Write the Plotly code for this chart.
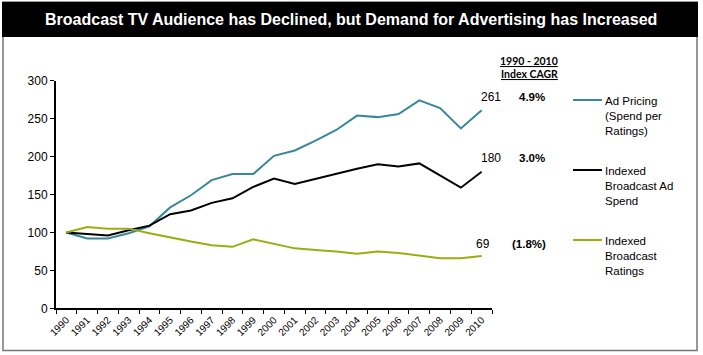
import plotly.graph_objects as go

years = [str(y) for y in range(1990, 2011)]
ad_pricing = [100, 92, 92, 99, 108, 133, 149, 169, 177, 177, 201, 208, 221, 235, 254, 252, 256, 274, 264, 237, 261]
ad_spend = [100, 98, 96, 103, 109, 124, 129, 139, 145, 160, 171, 164, 171, 178, 184, 190, 187, 191, 175, 159, 180]
ratings = [100, 107, 105, 105, 99, 93, 88, 83, 81, 91, 85, 79, 77, 75, 72, 75, 73, 69, 66, 66, 69]
series_names = ["Ad Pricing<br>(Spend per<br>Ratings)", "Indexed<br>Broadcast Ad<br>Spend", "Indexed<br>Broadcast<br>Ratings"]
end_labels = ["261", "180", "69"]
cagr_labels = ["4.9%", "3.0%", "(1.8%)"]
colors = ["#3A8799", "#000000", "#99AE10"]
title_text = "Broadcast TV Audience has Declined, but Demand for Advertising has Increased"

W, H = 703, 355
def px(x):
    return x / W
def py(y):
    return 1 - y / H

fig = go.Figure()
for vals, c in zip([ad_pricing, ad_spend, ratings], colors):
    fig.add_trace(go.Scatter(x=years, y=vals, mode="lines",
                             line=dict(color=c, width=2), showlegend=False, hoverinfo="skip"))

font = "Liberation Sans, Arial, sans-serif"
ann = []
# title
ann.append(dict(x=px(351), y=py(19.5), xref="paper", yref="paper", text="<b>" + title_text + "</b>",
                showarrow=False, font=dict(family=font, size=16, color="white"), xanchor="center", yanchor="middle"))
# CAGR header
ann.append(dict(x=px(529), y=py(61), xref="paper", yref="paper", text="<b><u>1990 - 2010</u></b>",
                showarrow=False, font=dict(family="Lato, sans-serif", size=10.5, color="black"), xanchor="center", yanchor="middle"))
ann.append(dict(x=px(529), y=py(74), xref="paper", yref="paper", text="<b><u>Index CAGR</u></b>",
                showarrow=False, font=dict(family="Lato, sans-serif", size=10.5, color="black"), xanchor="center", yanchor="middle"))

end_y = [97, 158, 244]
end_x = [491, 491, 483]
cagr_x = [532, 532, 529]
legend_y = [100, 170, 240]
legend_text_y = [115.5, 185.5, 255.5]
for i in range(3):
    ann.append(dict(x=px(end_x[i]), y=py(end_y[i]), xref="paper", yref="paper", text=end_labels[i],
                    showarrow=False, font=dict(family=font, size=12, color="black"), xanchor="center", yanchor="middle"))
    ann.append(dict(x=px(cagr_x[i]), y=py(end_y[i]), xref="paper", yref="paper", text="<b>" + cagr_labels[i] + "</b>",
                    showarrow=False, font=dict(family=font, size=11.5, color="black"), xanchor="center", yanchor="middle"))
    ann.append(dict(x=px(603), y=py(legend_text_y[i]), xref="paper", yref="paper", text=series_names[i],
                    showarrow=False, font=dict(family=font, size=11.5, color="black"), xanchor="left", yanchor="middle",
                    align="left"))

shapes = []
# outer border
shapes.append(dict(type="rect", xref="paper", yref="paper", x0=px(3), x1=px(697), y0=py(350.5), y1=py(2),
                   line=dict(color="#777777", width=1.5), fillcolor="white", layer="below"))
# title band
shapes.append(dict(type="rect", xref="paper", yref="paper", x0=px(2), x1=px(698), y0=py(37), y1=py(2),
                   line=dict(width=0), fillcolor="black", layer="below"))
for i in range(3):
    shapes.append(dict(type="line", xref="paper", yref="paper", x0=px(573), x1=px(602),
                       y0=py(legend_y[i]), y1=py(legend_y[i]), line=dict(color=colors[i], width=2)))

fig.update_layout(
    width=W, height=H,
    margin=dict(l=0, r=0, t=0, b=0),
    paper_bgcolor="white", plot_bgcolor="white",
    template="none",
    annotations=ann, shapes=shapes,
    xaxis=dict(type="category", domain=[px(56), px(492)], range=[-0.5, 20.5],
               tickson="boundaries", ticks="outside", ticklen=4, tickwidth=1, tickcolor="black",
               showline=True, linecolor="black", linewidth=2, showgrid=False, zeroline=False,
               tickangle=-45, tickfont=dict(family=font, size=10, color="black"), automargin=False),
    yaxis=dict(domain=[1 - 308.3 / H, 1 - 80.7 / H], range=[0, 300], tickvals=[0, 50, 100, 150, 200, 250, 300],
               ticks="outside", ticklen=4, tickwidth=1, tickcolor="black",
               showline=True, linecolor="black", linewidth=2, showgrid=False, zeroline=False,
               tickfont=dict(family=font, size=12, color="black"), automargin=False),
)
fig.write_html("out.html", config={"displayModeBar": False, "staticPlot": True},
               post_script="document.body.style.margin='0';document.body.style.overflow='hidden';")
